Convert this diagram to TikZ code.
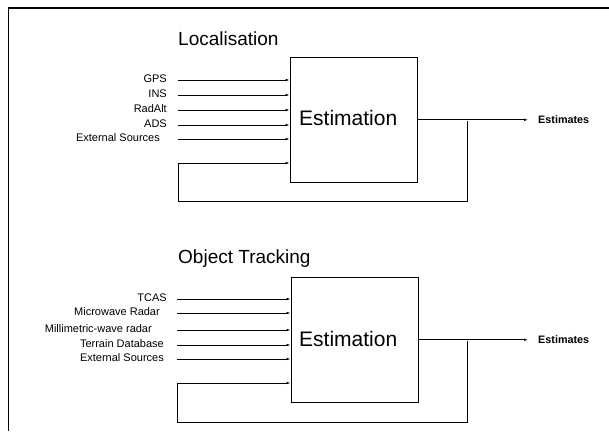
\documentclass[tikz,border=0pt]{standalone}
\usepackage{fontspec}
\setmainfont{Liberation Sans}
\usetikzlibrary{arrows.meta}
\begin{document}
\begin{tikzpicture}[x=1pt,y=-1pt,
  frameline/.style={line width=1.4pt},
  conn/.style={line width=0.75pt},
  arr/.style={conn,-{Latex[length=4pt,width=2.6pt]}},
  estbox/.style={draw,line width=0.9pt,minimum width=127pt,minimum height=125pt,inner sep=0pt},
  title/.style={font=\fontsize{19}{21}\selectfont,anchor=base west,inner sep=0pt},
  boxtext/.style={font=\fontsize{21}{24}\selectfont,anchor=base west,inner sep=0pt},
  inlabel/.style={font=\fontsize{11}{13}\selectfont,anchor=mid east,inner sep=0pt},
  outlabel/.style={font=\bfseries\fontsize{10.8}{12}\selectfont,anchor=mid west,inner sep=0pt}
]
\useasboundingbox (0,0) rectangle (609,431);
\fill[white] (0,0) rectangle (609,431);
% frame
\coordinate (fa) at (609,8);
\coordinate (fb) at (8.5,8);
\coordinate (fc) at (8.5,431);
\draw[frameline] (fa) -- (fb) -- (fc);

% ---------- Localisation ----------
\node[title] (t1) at (178,45) {Localisation};
\node[estbox] (box1) at (353.5,119.5) {};
\node[boxtext] (e1) at (299,125) {Estimation};
\node[inlabel] (gps) at (167,80) {GPS};
\node[inlabel] (ins) at (167,95) {INS};
\node[inlabel] (rad) at (167,110) {RadAlt};
\node[inlabel] (ads) at (167,125) {ADS};
\node[inlabel] (ext1) at (160,139) {External Sources};
\foreach \n in {gps,ins,rad,ads}
  \draw[arr] ([xshift=11pt]\n.mid east) -- (\n.mid east -| box1.west);
\draw[arr] ([xshift=18pt]ext1.mid east) -- (ext1.mid east -| box1.west);
\node[outlabel] (o1) at (538,121) {Estimates};
\coordinate (br1) at (467,121);
\coordinate (fbl1) at (178,163);
\draw[arr] (box1.east |- o1.west) -- ([xshift=-10pt]o1.west);
\draw[conn] (br1) -- (467,201) -- (178,201) -- (fbl1);
\draw[arr] (fbl1) -- (fbl1 -| box1.west);

% ---------- Object Tracking ----------
\node[title] (t2) at (178,263) {Object Tracking};
\node[estbox] (box2) at (354.5,340) {};
\node[boxtext] (e2) at (299,346) {Estimation};
\node[inlabel] (tcas) at (167,299) {TCAS};
\node[inlabel] (mwr) at (160,313) {Microwave Radar};
\node[inlabel] (mmw) at (152,330) {Millimetric-wave radar};
\node[inlabel] (ter) at (164,345) {Terrain Database};
\node[inlabel] (ext2) at (164,359) {External Sources};
\foreach \n in {tcas,mwr,mmw,ter,ext2}
  \draw[arr] (\n.mid east -| 177,0) -- (\n.mid east -| box2.west);
\node[outlabel] (o2) at (538,341) {Estimates};
\coordinate (br2) at (467,341);
\coordinate (fbl2) at (177,383);
\draw[arr] (box2.east |- o2.west) -- ([xshift=-10pt]o2.west);
\draw[conn] (br2) -- (467,422) -- (177,422) -- (fbl2);
\draw[arr] (fbl2) -- (fbl2 -| box2.west);
\end{tikzpicture}
\end{document}
